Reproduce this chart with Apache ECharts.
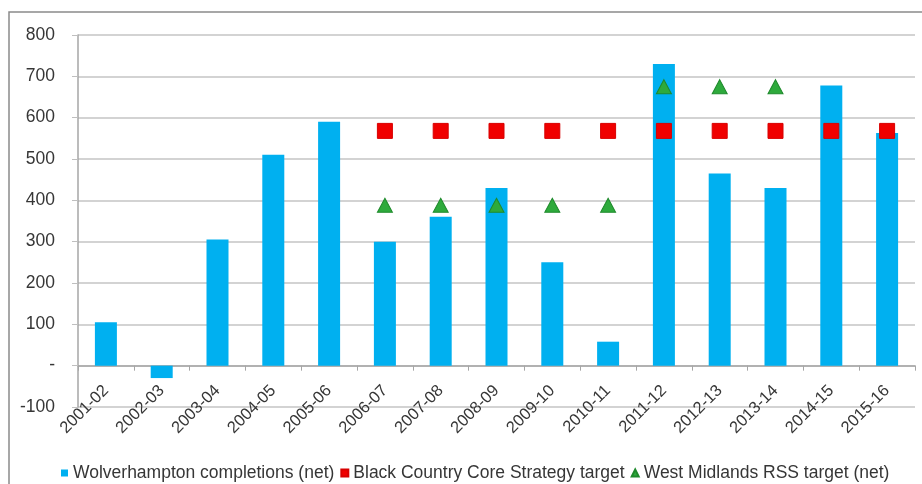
<!DOCTYPE html>
<html>
<head>
<meta charset="utf-8">
<script src="https://cdn.jsdelivr.net/npm/echarts@6/dist/echarts.min.js"></script>
<style>
  html, body { margin: 0; padding: 0; background: #fff; }
  #chart { width: 922px; height: 484px; }
</style>
</head>
<body>
<div id="chart"></div>
<script>
// Financial years on the category axis
const years = ['2001-02', '2002-03', '2003-04', '2004-05', '2005-06', '2006-07', '2007-08',
  '2008-09', '2009-10', '2010-11', '2011-12', '2012-13', '2013-14', '2014-15', '2015-16'];

// Net housing completions in Wolverhampton
const completions = [105, -30, 305, 510, 590, 300, 360, 430, 250, 58, 730, 465, 430, 678, 563];

// Black Country Core Strategy annual target (from 2006-07)
const coreStrategyTarget = ['-', '-', '-', '-', '-', 568, 568, 568, 568, 568, 568, 568, 568, 568, 568];

// West Midlands RSS annual target, net (2006-07 to 2013-14)
const rssTarget = ['-', '-', '-', '-', '-', 388, 388, 388, 388, 388, 675, 675, 675, '-', '-'];

// Value-axis ticks
const yTicks = { min: -100, max: 800, interval: 100 };

const seriesNames = ['Wolverhampton completions (net)', 'Black Country Core Strategy target', 'West Midlands RSS target (net)'];

const textColor = '#363636';
const fontFamily = '"Liberation Sans", Arial, sans-serif';

const chart = echarts.init(document.getElementById('chart'));
chart.setOption({
  animation: false,
  backgroundColor: '#ffffff',
  graphic: [{
    type: 'rect',
    shape: { x: 9, y: 12, width: 1000, height: 1000 },
    style: { fill: 'none', stroke: '#8a8a8a', lineWidth: 1.5 },
    silent: true,
    z: -1
  }],
  grid: { left: 78, right: 7, top: 35, bottom: 77, containLabel: false },
  legend: {
    left: 56,
    top: 459,
    itemWidth: 7,
    itemHeight: 7,
    itemGap: 6,
    textStyle: { color: textColor, fontSize: 17.5, fontFamily: fontFamily },
    data: [
      { name: seriesNames[0], icon: 'rect' },
      { name: seriesNames[1], icon: 'rect' },
      { name: seriesNames[2], icon: 'triangle' }
    ]
  },
  xAxis: {
    type: 'category',
    data: years,
    boundaryGap: true,
    axisLine: { onZero: true, lineStyle: { color: '#a6a6a6', width: 1.5 } },
    axisTick: { show: true, length: 5, lineStyle: { color: '#a6a6a6' } },
    axisLabel: {
      rotate: 45,
      margin: -19,
      interval: 0,
      color: textColor,
      fontSize: 16.5,
      fontFamily: fontFamily
    },
    splitLine: { show: false }
  },
  yAxis: {
    type: 'value',
    min: yTicks.min,
    max: yTicks.max,
    interval: yTicks.interval,
    axisLine: { show: true, lineStyle: { color: '#a6a6a6', width: 1.5 } },
    axisTick: { show: true, length: 6, lineStyle: { color: '#bfbfbf' } },
    axisLabel: {
      margin: 23,
      color: textColor,
      fontSize: 17.5,
      fontFamily: fontFamily,
      formatter: v => (v === 0 ? '-' : String(v))
    },
    splitLine: { show: true, lineStyle: { color: '#c4c4c4', width: 1.5 } }
  },
  series: [
    {
      name: seriesNames[0],
      type: 'bar',
      data: completions,
      barWidth: 22,
      itemStyle: { color: '#00b0f0' },
      z: 2
    },
    {
      name: seriesNames[1],
      type: 'scatter',
      data: coreStrategyTarget,
      symbol: 'rect',
      symbolSize: 15,
      itemStyle: { color: '#f00000', borderColor: '#d80000', borderWidth: 1, opacity: 1 },
      z: 4
    },
    {
      name: seriesNames[2],
      type: 'scatter',
      data: rssTarget,
      symbol: 'triangle',
      symbolSize: [15, 14],
      itemStyle: { color: '#2eaa3c', borderColor: '#1f8a2c', borderWidth: 1, opacity: 1 },
      z: 5
    }
  ]
});
</script>
</body>
</html>
